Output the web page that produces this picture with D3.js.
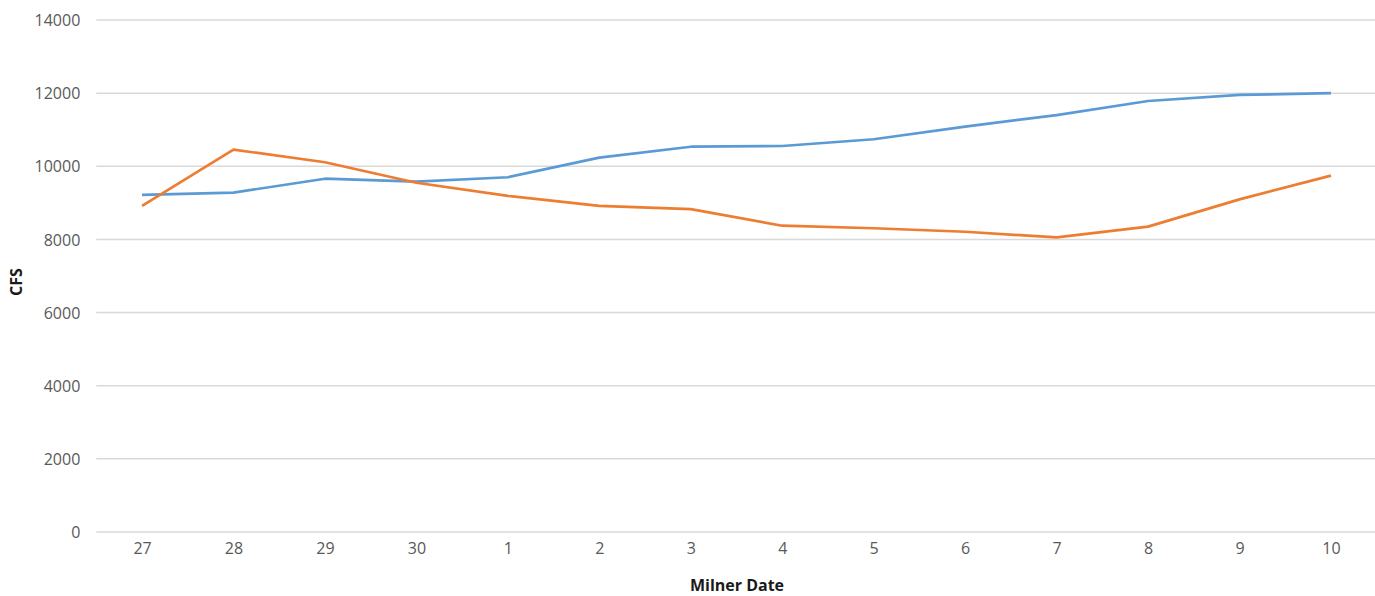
<!DOCTYPE html>
<html><head><meta charset="utf-8">
<script src="https://cdn.jsdelivr.net/npm/d3@7"></script>
<style>body{margin:0;background:#fff;}svg{display:block;font-family:"Open Sans",Lato,sans-serif;}</style>
</head><body>
<svg id="c" width="1375" height="596"></svg>
<script>
const categories = ["27","28","29","30","1","2","3","4","5","6","7","8","9","10"];
const seriesBlue = [9220,9280,9660,9580,9700,10235,10535,10555,10740,11085,11400,11785,11950,12000];
const seriesOrange = [8915,10455,10110,9550,9190,8915,8830,8375,8305,8210,8055,8350,9095,9745];
const yTicks = [0,2000,4000,6000,8000,10000,12000,14000];

(function(){
const svg = d3.select("#c");
const pLeft = 96.3, pRight = 1376.7, pTop = 20, pBottom = 532;
const x = d3.scalePoint().domain(categories).range([pLeft, pRight]).padding(0.5);
const y = d3.scaleLinear().domain([0,14000]).range([pBottom, pTop]);

svg.append("g").selectAll("line").data(yTicks).join("line")
  .attr("x1", pLeft).attr("x2", pRight)
  .attr("y1", d => y(d)).attr("y2", d => y(d))
  .attr("stroke", "#d9d9d9").attr("stroke-width", 1.5);

const yAxis = d3.axisLeft(y).tickValues(yTicks).tickSize(0).tickPadding(0).tickFormat(d3.format("d"));
const gy = svg.append("g").attr("transform", `translate(${pLeft-16},0)`).call(yAxis)
  .attr("font-family", "'Open Sans', sans-serif");
gy.select(".domain").remove();
gy.selectAll("text").attr("fill","#595959").style("font-size","16px").attr("dy","0.35em");

const xAxis = d3.axisBottom(x).tickSize(0).tickPadding(0);
const gx = svg.append("g").attr("transform", `translate(0,${pBottom+11})`).call(xAxis)
  .attr("font-family", "'Open Sans', sans-serif");
gx.select(".domain").remove();
gx.selectAll("text").attr("fill","#595959").style("font-size","16px").attr("dy","0.71em");

const line = d3.line().x((d,i) => x(categories[i])).y(d => y(d));
svg.append("path").datum(seriesBlue).attr("d", line).attr("fill","none")
  .attr("stroke","#5B9BD5").attr("stroke-width",2.7).attr("stroke-linejoin","round");
svg.append("path").datum(seriesOrange).attr("d", line).attr("fill","none")
  .attr("stroke","#ED7D31").attr("stroke-width",2.7).attr("stroke-linejoin","round");

svg.append("text").attr("x", 737).attr("y", 591).attr("text-anchor","middle")
  .style("font-size","16px").style("font-weight","bold").attr("fill","#1a1a1a").text("Milner Date");
svg.append("text").attr("transform","translate(22,282) rotate(-90)").attr("text-anchor","middle")
  .style("font-size","16px").style("font-weight","bold").attr("fill","#1a1a1a").text("CFS");
})();
</script>
</body></html>
